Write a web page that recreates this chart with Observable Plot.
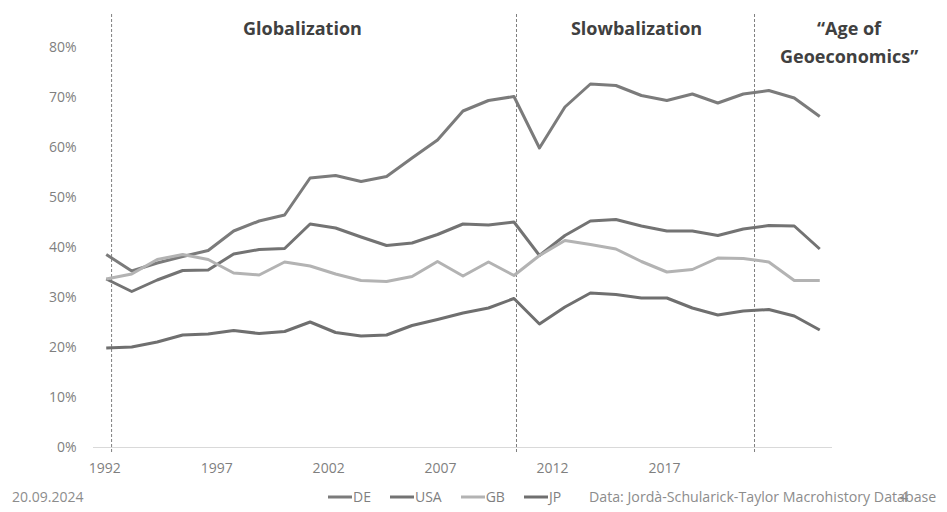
<!DOCTYPE html>
<html>
<head>
<meta charset="utf-8">
<script src="https://cdn.jsdelivr.net/npm/d3@7"></script>
<script src="https://cdn.jsdelivr.net/npm/@observablehq/plot@0.6"></script>
<style>
  body { margin: 0; background: #fff; font-family: "Open Sans", sans-serif; }
  #wrap { position: relative; width: 947px; height: 512px; overflow: hidden; background: #fff; }
  .foot { position: absolute; top: 485px; height: 24px; line-height: 24px; font-size: 14.2px; color: #8c8c8c; white-space: nowrap; }
  #date { left: 12px; font-size: 14px; }
  #legend { left: 328px; display: flex; gap: 19px; color: #7f7f7f; font-size: 14px; }
  #legend .item { display: flex; align-items: center; }
  #legend svg { margin-right: 1px; }
  #source { left: 589px; }
  #page { left: 900px; }
</style>
</head>
<body>
<div id="wrap">
  <div id="chart"></div>
  <div class="foot" id="date">20.09.2024</div>
  <div class="foot" id="legend"></div>
  <div class="foot" id="source">Data: Jordà-Schularick-Taylor Macrohistory Database</div>
  <div class="foot" id="page">4</div>
</div>
<script>
// Years covered by the series
const years = [1992, 1993, 1994, 1995, 1996, 1997, 1998, 1999, 2000, 2001,
               2002, 2003, 2004, 2005, 2006, 2007, 2008, 2009, 2010, 2011,
               2012, 2013, 2014, 2015, 2016, 2017, 2018, 2019, 2020];

// Share of GDP, in percent
const deValues  = [38.6, 35.3, 36.9, 38.2, 39.4, 43.3, 45.3, 46.5, 53.9, 54.4,
                   53.2, 54.2, 57.9, 61.5, 67.3, 69.4, 70.2, 59.9, 68.1, 72.7,
                   72.4, 70.4, 69.4, 70.7, 68.9, 70.7, 71.4, 69.9, 66.2];
const usaValues = [33.7, 31.2, 33.5, 35.4, 35.5, 38.7, 39.6, 39.8, 44.7, 43.9,
                   42.1, 40.4, 40.9, 42.6, 44.7, 44.5, 45.1, 38.4, 42.4, 45.3,
                   45.6, 44.3, 43.3, 43.3, 42.4, 43.7, 44.4, 44.3, 39.7];
const gbValues  = [33.7, 34.7, 37.6, 38.6, 37.6, 34.9, 34.5, 37.1, 36.3, 34.7,
                   33.4, 33.2, 34.2, 37.2, 34.3, 37.1, 34.4, 38.4, 41.4, 40.6,
                   39.7, 37.2, 35.1, 35.6, 37.9, 37.8, 37.1, 33.4, 33.4];
const jpValues  = [19.9, 20.1, 21.1, 22.5, 22.7, 23.4, 22.8, 23.2, 25.1, 23.0,
                   22.3, 22.5, 24.4, 25.6, 26.9, 27.9, 29.8, 24.7, 28.1, 30.9,
                   30.6, 29.9, 29.9, 27.9, 26.5, 27.3, 27.6, 26.3, 23.5];

const countries = ["DE", "USA", "GB", "JP"];
const seriesValues = [deValues, usaValues, gbValues, jpValues];
const countryColors = ["#7b7b7b", "#737373", "#b3b3b3", "#6f6f6f"];

// Era boundaries and era headings
const eraBoundaries = [1992.21, 2008.1, 2017.44];
const eraNames = ["Globalization", "Slowbalization", "“Age of\nGeoeconomics”"];
const eraCenters = [1999.7, 2012.81, 2021.15];

// Axis ticks
const yTicks = [0, 0.1, 0.2, 0.3, 0.4, 0.5, 0.6, 0.7, 0.8];
const yearLabels = [1992, 1997, 2002, 2007, 2012, 2017];
// The year ruler under the chart runs 1992–2024 across the full plot width
const rulerSpan = [1991.5, 2024.5];
const dataSpan = [1991.5, 2020.5];

const rows = seriesValues.flatMap((vals, i) =>
  vals.map((v, j) => ({country: countries[i], year: years[j], value: v / 100}))
);
const eras = eraNames.map((name, i) => ({name, x: eraCenters[i]}));
const ruler = d3.scaleLinear(rulerSpan, dataSpan);

const chart = Plot.plot({
  width: 947,
  height: 480,
  marginLeft: 93,
  marginRight: 115,
  marginTop: 47,
  marginBottom: 33,
  style: {fontFamily: "Open Sans", fontSize: "14px", background: "white"},
  x: {domain: dataSpan},
  y: {domain: [0, 0.8]},
  color: {domain: countries, range: countryColors},
  marks: [
    Plot.ruleY([0], {stroke: "#d9d9d9", strokeWidth: 1}),
    Plot.ruleX(eraBoundaries, {y1: -0.01, y2: 0.866, stroke: "#7f7f7f", strokeWidth: 1, strokeDasharray: "3,2"}),
    Plot.line(rows, {x: "year", y: "value", z: "country", stroke: "country", strokeWidth: 3, strokeLinejoin: "round", strokeLinecap: "butt"}),
    Plot.axisY(yTicks, {tickSize: 0, tickPadding: 17, tickFormat: d3.format(".0%"), color: "#7f7f7f", label: null, fontSize: 14}),
    Plot.axisX(yearLabels.map(ruler), {tickSize: 0, tickPadding: 16, tickFormat: (d) => String(Math.round(ruler.invert(d))), color: "#7f7f7f", label: null, fontSize: 14}),
    Plot.text(eras, {x: "x", y: 0.8646, text: "name", lineAnchor: "top", lineHeight: 1.56, fontSize: 18, fontWeight: "bold", fill: "#404040"})
  ]
});
document.getElementById("chart").appendChild(chart);

// Line-swatch legend
const legend = document.getElementById("legend");
countries.forEach((c, i) => {
  const item = document.createElement("span");
  item.className = "item";
  item.innerHTML = `<svg width="24" height="4"><line x1="0" x2="24" y1="2" y2="2" stroke="${countryColors[i]}" stroke-width="3"/></svg><span>${c}</span>`;
  legend.appendChild(item);
});
</script>
</body>
</html>
